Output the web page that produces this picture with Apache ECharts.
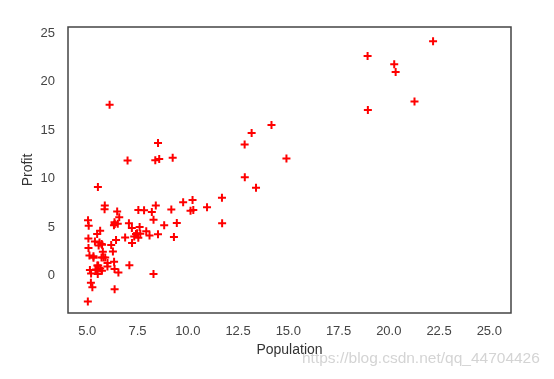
<!DOCTYPE html>
<html><head><meta charset="utf-8">
<script src="https://cdn.jsdelivr.net/npm/echarts@6/dist/echarts.min.js"></script>
<style>html,body{margin:0;padding:0;background:#fff}#c{width:554px;height:379px}</style>
</head><body><div id="c"></div>
<script>
const population = [6.1101,5.5277,8.5186,7.0032,5.8598,8.3829,7.4764,8.5781,6.4862,5.0546,5.7107,14.164,5.734,8.4084,5.6407,5.3794,6.3654,5.1301,6.4296,7.0708,6.1891,20.27,5.4901,6.3261,5.5649,18.945,12.828,10.957,13.176,22.203,5.2524,6.5894,9.2482,5.8918,8.2111,7.9334,8.0959,5.6063,12.836,6.3534,5.4069,6.8825,11.708,5.7737,7.8247,7.0931,5.0702,5.8014,11.7,5.5416,7.5402,5.3077,7.4239,7.6031,6.3328,6.3589,6.2742,5.6397,9.3102,9.4536,8.8254,5.1793,21.279,14.908,18.959,7.2182,8.2951,10.236,5.4994,20.341,10.136,7.3345,6.0062,7.2259,5.0269,6.5479,7.5386,5.0365,10.274,5.1077,5.7292,5.1884,6.3557,9.7687,6.5159,8.5172,9.1802,6.002,5.5204,5.0594,5.7077,7.6366,5.8707,5.3054,8.2934,13.394,5.4369];
const profit = [17.592,9.1302,13.662,11.854,6.8233,11.886,4.3483,12,6.5987,3.8166,3.2522,15.505,3.1551,7.2258,0.71618,3.5129,5.3048,0.56077,3.6518,5.3893,3.1386,21.767,4.263,5.1875,3.0825,22.638,13.501,7.0467,14.692,24.147,-1.22,5.9966,12.134,1.8495,6.5426,4.5623,4.1164,3.3928,10.117,5.4974,0.55657,3.9115,5.3854,2.4406,6.7318,1.0463,5.1337,1.844,8.0043,1.0179,6.7504,1.8396,4.2885,4.9981,1.4233,-1.4211,2.4756,4.6042,3.9624,5.4141,5.1694,-0.74279,17.929,12.054,17.054,4.8852,5.7442,7.7754,1.0173,20.992,6.6799,4.0259,1.2784,3.3411,-2.6807,0.29678,3.8845,5.7014,6.7526,2.0576,0.47953,0.20421,0.67861,7.5435,5.3436,4.2415,6.7981,0.92695,0.152,2.8214,1.8451,4.2959,7.2029,1.9869,0.14454,9.0551,0.61705];
const xTicks = [5.0,7.5,10.0,12.5,15.0,17.5,20.0,22.5,25.0];
const yTicks = [0,5,10,15,20,25];
const xTitle = 'Population';
const yTitle = 'Profit';
const watermark = 'https://blog.csdn.net/qq_44704426';

const data = population.map((x,i)=>[x, profit[i]]);
const chart = echarts.init(document.getElementById('c'));
const font = 'Liberation Sans, Arial, sans-serif';
chart.setOption({
  animation:false,
  backgroundColor:'#fff',
  grid:{left:68,top:27,right:43,bottom:66,show:true,borderColor:'#444',borderWidth:1.5,backgroundColor:'#fff'},
  xAxis:{type:'value',min:4.04,max:26.08,
    name:xTitle,nameLocation:'middle',nameGap:30,nameMoveOverlap:false,
    nameTextStyle:{color:'#333',fontSize:14,fontFamily:font},
    axisLine:{show:false},axisTick:{show:false},splitLine:{show:false},
    axisLabel:{customValues:xTicks,color:'#444',fontSize:13,fontFamily:font,margin:12,
      formatter:v=>Number(v).toFixed(1)}},
  yAxis:{type:'value',min:-3.87,max:25.62,
    name:yTitle,nameLocation:'middle',nameGap:33,nameRotate:90,nameMoveOverlap:false,
    nameTextStyle:{color:'#333',fontSize:14,fontFamily:font},
    axisLine:{show:false},axisTick:{show:false},splitLine:{show:false},
    axisLabel:{customValues:yTicks,color:'#444',fontSize:13,fontFamily:font,margin:13,
      formatter:v=>String(v)}},
  graphic:[{type:'text',left:302,top:351,style:{text:watermark,fill:'#d4d4d4',font:'15.5px '+font}}],
  series:[{type:'scatter',data:data,
    symbol:'path://M3,0H5V3H8V5H5V8H3V5H0V3H3Z',symbolSize:8,
    itemStyle:{color:'#ff0000',opacity:1}}]
});
</script></body></html>
